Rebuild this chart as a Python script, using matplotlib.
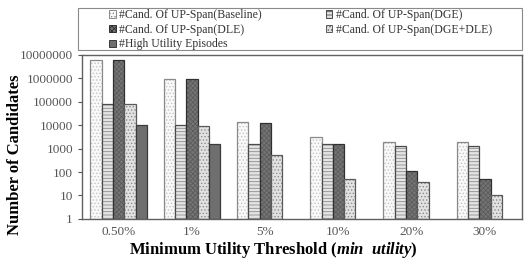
import numpy as np
import matplotlib
matplotlib.use("Agg")
import matplotlib.pyplot as plt
from matplotlib.patches import Patch, Rectangle

plt.rcParams['font.family'] = ['Liberation Serif', 'DejaVu Serif']
plt.rcParams['mathtext.fontset'] = 'custom'
plt.rcParams['mathtext.bfit'] = 'Liberation Serif:italic:bold'
plt.rcParams['mathtext.it'] = 'Liberation Serif:italic'
plt.rcParams['mathtext.bf'] = 'Liberation Serif:bold'
plt.rcParams['hatch.linewidth'] = 0.6

thresholds = ["0.50%", "1%", "5%", "10%", "20%", "30%"]
series_names = ["#Cand. Of UP-Span(Baseline)", "#Cand. Of UP-Span(DGE)",
                "#Cand. Of UP-Span(DLE)", "#Cand. Of UP-Span(DGE+DLE)",
                "#High Utility Episodes"]
baseline = [6000000, 900000, 13500, 3100, 2000, 2000]
dge = [83000, 10000, 1600, 1500, 1350, 1270]
dle = [6000000, 900000, 12300, 1500, 115, 50]
dge_dle = [80000, 9000, 510, 50, 36, 9]
hue = [10000, 1500, 0, 0, 0, 0]

faces = ['#f9f9f9', '#e4e4e4', '#757575', '#e2e2e2', '#6f6f6f']
hatch_cols = ['#c4c4c4', '#8c8c8c', '#5c5c5c', '#8a8a8a', '#5a5a5a']
hatches = ['.....', '-----', 'xxxxxxx', '.....', '']
outlines = ['#8a8a8a', '#4a4a4a', '#303030', '#5a5a5a', '#3a3a3a']

fig = plt.figure(figsize=(5.29, 2.59), dpi=100)
ax = fig.add_axes([0.155, 0.155, 0.831, 0.633])

x = np.arange(len(thresholds))
w = 0.154
data = [baseline, dge, dle, dge_dle, hue]
handles = []
for i, vals in enumerate(data):
    pos = x + (i - 2) * w
    v = np.array(vals, dtype=float)
    v[v <= 0] = np.nan
    ax.bar(pos, v, w, bottom=1, color=faces[i], hatch=hatches[i],
           edgecolor=hatch_cols[i], linewidth=0)
    ax.bar(pos, v, w, bottom=1, fill=False, edgecolor=outlines[i], linewidth=0.9)
    handles.append(Patch(facecolor=faces[i], hatch=hatches[i],
                         edgecolor=outlines[i], linewidth=0.7, label=series_names[i]))

ax.set_yscale('log')
ax.set_ylim(1, 10000000)
ax.set_xlim(-0.5, len(thresholds) - 0.5)
ax.set_yticks([10 ** k for k in range(8)])
ax.set_yticklabels([str(10 ** k) for k in range(8)])
ax.minorticks_off()
ax.set_xticks(x)
ax.set_xticklabels(thresholds)
ax.tick_params(axis='y', labelsize=9.5, colors='#555555', length=3, width=0.8)
ax.tick_params(axis='x', labelsize=9.5, colors='#555555', length=0, pad=5)
for s in ax.spines.values():
    s.set_color('#606060')
    s.set_linewidth(1.0)

ax.set_ylabel("Number of Candidates", fontsize=12, fontweight='bold')
ax.yaxis.set_label_coords(-0.135, 0.39)
ax.set_xlabel(r"Minimum Utility Threshold ($\mathbfit{min\ \ utility}$)",
              fontsize=12, fontweight='bold')
ax.xaxis.set_label_coords(0.435, -0.13)

# legend box
fig.patches.append(Rectangle((78 / 529, 1 - 50 / 259), 444 / 529, 42 / 259,
                             transform=fig.transFigure, fill=False,
                             edgecolor='#8a8a8a', linewidth=0.8))
order = [0, 2, 4, 1, 3]
leg = fig.legend([handles[k] for k in order], [series_names[k] for k in order],
                 ncol=2, loc='center', bbox_to_anchor=(0.568, 0.885),
                 fontsize=8.5, frameon=False, borderaxespad=0,
                 handlelength=0.55, handleheight=0.55, handletextpad=0.3,
                 labelspacing=0.22, borderpad=0, columnspacing=5.4)
for t in leg.get_texts():
    t.set_color('#333333')

fig.savefig("out.png", dpi=100)
